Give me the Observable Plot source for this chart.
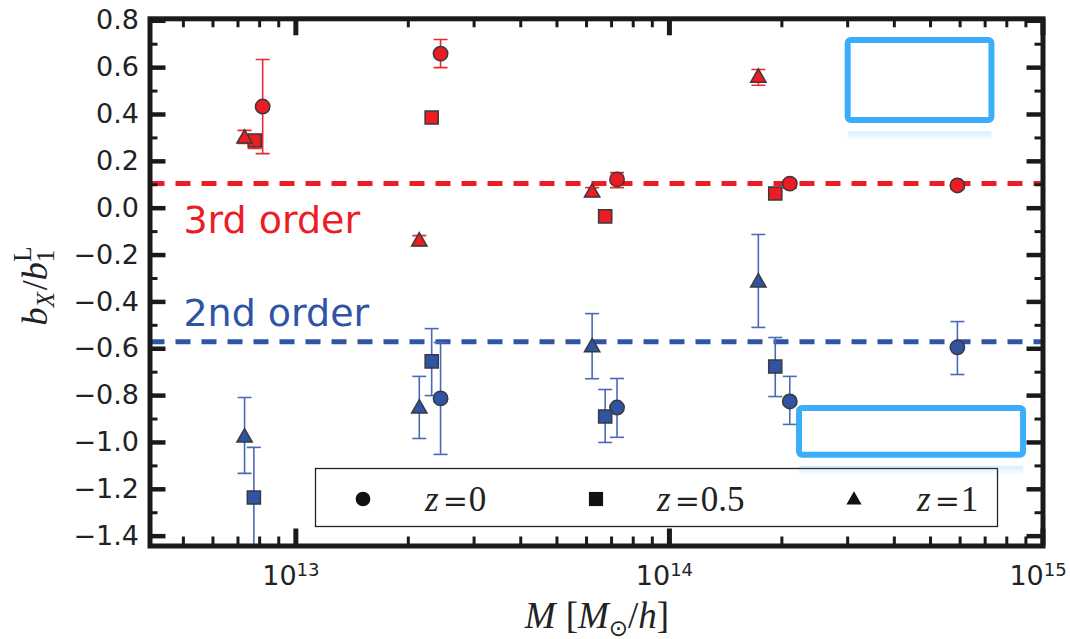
<!DOCTYPE html>
<html><head><meta charset="utf-8">
<script src="https://cdn.jsdelivr.net/npm/d3@7"></script>
<script src="https://cdn.jsdelivr.net/npm/@observablehq/plot@0.6"></script>
<style>html,body{margin:0;padding:0;background:#fff;}</style>
</head><body>
<div id="chart"></div>
<script>
// ---------- data ----------
// 3rd order (red)
const mass3_z0  = [8.15e12, 2.44e13, 7.24e13, 2.10e14, 5.90e14];
const b3_z0     = [0.434, 0.660, 0.123, 0.105, 0.097];
const lo3_z0    = [0.233, 0.600, 0.088, 0.085, 0.088];
const hi3_z0    = [0.635, 0.720, 0.152, 0.120, 0.106];
const mass3_z05 = [7.76e12, 2.31e13, 6.73e13, 1.92e14];
const b3_z05    = [0.289, 0.387, -0.035, 0.063];
const lo3_z05   = [0.255, 0.378, -0.042, 0.056];
const hi3_z05   = [0.310, 0.396, -0.028, 0.070];
const mass3_z1  = [7.29e12, 2.14e13, 6.21e13, 1.73e14];
const b3_z1     = [0.297, -0.142, 0.067, 0.557];
const lo3_z1    = [0.276, -0.160, 0.050, 0.525];
const hi3_z1    = [0.332, -0.117, 0.088, 0.592];
// 2nd order (blue)
const mass2_z0  = [2.44e13, 7.24e13, 2.10e14, 5.90e14];
const b2_z0     = [-0.812, -0.851, -0.825, -0.594];
const lo2_z0    = [-1.051, -0.978, -0.923, -0.710];
const hi2_z0    = [-0.573, -0.727, -0.718, -0.484];
const mass2_z05 = [7.72e12, 2.31e13, 6.73e13, 1.92e14];
const b2_z05    = [-1.235, -0.654, -0.889, -0.676];
const lo2_z05   = [-1.600, -0.800, -1.000, -0.804];
const hi2_z05   = [-1.021, -0.514, -0.774, -0.552];
const mass2_z1  = [7.29e12, 2.14e13, 6.21e13, 1.73e14];
const b2_z1     = [-0.979, -0.855, -0.594, -0.317];
const lo2_z1    = [-1.132, -0.983, -0.728, -0.509];
const hi2_z1    = [-0.808, -0.718, -0.450, -0.112];
// reference levels
const level3 = 0.105;
const level2 = -0.570;
// annotation labels
const annoText = ["3rd order", "2nd order"];
const annoX    = [5.0e12, 5.0e12];
const annoY    = [-0.053, -0.449];
// highlight boxes (data units)
const boxX1 = [3.01e14, 2.23e14];
const boxX2 = [7.30e14, 8.87e14];
const boxY1 = [0.716, -0.855];
const boxY2 = [0.374, -1.055];
// ticks
const yMajor = [-1.4,-1.2,-1.0,-0.8,-0.6,-0.4,-0.2,0.0,0.2,0.4,0.6,0.8];
const yMinor = [-1.3,-1.1,-0.9,-0.7,-0.5,-0.3,-0.1,0.1,0.3,0.5,0.7];
const xMajor = [1e13, 1e14, 1e15];
const xMinor = [5e12,6e12,7e12,8e12,9e12,2e13,3e13,4e13,5e13,6e13,7e13,8e13,9e13,2e14,3e14,4e14,5e14,6e14,7e14,8e14,9e14];
const legendLabels = ["0", "0.5", "1"];

// ---------- build table ----------
const rows = [];
function add(order, z, M, b, lo, hi) { M.forEach((m, i) => rows.push({order, z, M: m, b: b[i], lo: lo[i], hi: hi[i]})); }
add(3, "0", mass3_z0, b3_z0, lo3_z0, hi3_z0);
add(3, "0.5", mass3_z05, b3_z05, lo3_z05, hi3_z05);
add(3, "1", mass3_z1, b3_z1, lo3_z1, hi3_z1);
add(2, "0", mass2_z0, b2_z0, lo2_z0, hi2_z0);
add(2, "0.5", mass2_z05, b2_z05, lo2_z05, hi2_z05);
add(2, "1", mass2_z1, b2_z1, lo2_z1, hi2_z1);
const annos = annoText.map((t, i) => ({t, x: annoX[i], y: annoY[i], c: i === 0 ? "red" : "blue"}));
const boxes = boxX1.map((_, i) => ({x1: boxX1[i], x2: boxX2[i], y1: boxY1[i], y2: boxY2[i]}));

// ---------- style ----------
const W = 1070, H = 639, ML = 149.5, MR = 27.5, MT = 18.3, MB = 93.5;
const PW = W - ML - MR, PH = H - MT - MB;
const RED = "#ec1c24", BLUE = "#2f54a3";
const RED_ERR = "#f0282d", BLUE_ERR = "#4a6ab8";
const symbolOf = {"0": "circle", "0.5": "square", "1": "triangle"};
const rOf = {"0": 7.2, "0.5": 7.4, "1": 5.7};
const capSym = {draw(ctx, size) { const w = Math.sqrt(size / Math.PI); ctx.moveTo(-w, 0); ctx.lineTo(w, 0); }};
const fmtY = d => (d < -1e-9 ? "\u2212" : "") + Math.abs(d).toFixed(1);

const marks = [
  Plot.ruleY([level3], {y: d => d, stroke: RED, strokeWidth: 5, strokeDasharray: "15,11"}),
  Plot.ruleY([level2], {y: d => d, stroke: BLUE, strokeWidth: 5, strokeDasharray: "15,11"}),
];
for (const [order, ec] of [[3, RED_ERR], [2, BLUE_ERR]]) {
  const d = rows.filter(r => r.order === order);
  marks.push(Plot.ruleX(d, {x: "M", y1: "lo", y2: "hi", stroke: ec, strokeWidth: 1.6, clip: true}));
  marks.push(Plot.dot(d, {x: "M", y: "lo", symbol: capSym, r: 7, fill: "none", stroke: ec, strokeWidth: 1.6, clip: true}));
  marks.push(Plot.dot(d, {x: "M", y: "hi", symbol: capSym, r: 7, fill: "none", stroke: ec, strokeWidth: 1.6, clip: true}));
}
for (const [order, fc] of [[3, RED], [2, BLUE]]) {
  for (const z of ["0", "0.5", "1"]) {
    const d = rows.filter(r => r.order === order && r.z === z);
    marks.push(Plot.dot(d, {x: "M", y: "b", symbol: symbolOf[z], r: rOf[z], fill: fc, stroke: "#3a3a3a", strokeWidth: 1.5}));
  }
}
marks.push(
  Plot.text(annos.filter(a => a.c === "red"), {x: "x", y: "y", text: "t", fill: RED, fontSize: 38, textAnchor: "start", fontFamily: "DejaVu Sans"}),
  Plot.text(annos.filter(a => a.c === "blue"), {x: "x", y: "y", text: "t", fill: BLUE, fontSize: 38, textAnchor: "start", fontFamily: "DejaVu Sans"}),
  // inward ticks on all four sides
  Plot.tickY(yMajor, {y: d => d, insetRight: PW - 16, stroke: "#1a1a1a", strokeWidth: 4.5}),
  Plot.tickY(yMajor, {y: d => d, insetLeft: PW - 16, stroke: "#1a1a1a", strokeWidth: 4.5}),
  Plot.tickY(yMinor, {y: d => d, insetRight: PW - 8, stroke: "#1a1a1a", strokeWidth: 3}),
  Plot.tickY(yMinor, {y: d => d, insetLeft: PW - 8, stroke: "#1a1a1a", strokeWidth: 3}),
  Plot.tickX(xMajor, {x: d => d, insetTop: PH - 17, stroke: "#1a1a1a", strokeWidth: 5}),
  Plot.tickX(xMajor, {x: d => d, insetBottom: PH - 17, stroke: "#1a1a1a", strokeWidth: 5}),
  Plot.tickX(xMinor, {x: d => d, insetTop: PH - 9, stroke: "#1a1a1a", strokeWidth: 3}),
  Plot.tickX(xMinor, {x: d => d, insetBottom: PH - 9, stroke: "#1a1a1a", strokeWidth: 3}),
  Plot.frame({stroke: "#1a1a1a", strokeWidth: 5}),
  Plot.axisY(yMajor, {tickSize: 0, tickPadding: 11, fontSize: 27, tickFormat: fmtY, fill: "#222", label: null}),
  Plot.axisX(xMajor, {anchor: "bottom", tickSize: 0, tickPadding: 20, fontSize: 27, fill: "#222", label: null, dx: -5,
    tickFormat: d => String(Math.round(Math.log10(d)))}),
  // highlight boxes and their faint reflection
  Plot.rect(boxes, {x1: "x1", x2: "x2", y1: "y2", y2: "y2", dy: 16, insetTop: -5, insetBottom: -5, fill: "url(#reflGrad)"}),
  Plot.rect(boxes, {x1: "x1", x2: "x2", y1: "y1", y2: "y2", fill: "none", stroke: "#3aaefa", strokeWidth: 6, rx: 3})
);

const plot = Plot.plot({
  width: W, height: H,
  marginLeft: ML, marginRight: MR, marginTop: MT, marginBottom: MB,
  x: {type: "log", domain: [4.07e12, 1e15], label: null},
  y: {domain: [-1.442, 0.8085], label: null},
  style: {fontFamily: "DejaVu Sans", background: "white", overflow: "visible"},
  marks
});
document.getElementById("chart").appendChild(plot);

const svg = d3.select(plot);
// gradient for reflection
const defs = svg.insert("defs", ":first-child");
const g = defs.append("linearGradient").attr("id", "reflGrad").attr("x1", 0).attr("y1", 0).attr("x2", 0).attr("y2", 1);
g.append("stop").attr("offset", "0%").attr("stop-color", "#3aaefa").attr("stop-opacity", 0.2);
g.append("stop").attr("offset", "100%").attr("stop-color", "#3aaefa").attr("stop-opacity", 0);

// x tick labels as 10^n
svg.selectAll('g[aria-label="x-axis tick label"] text').each(function () {
  const e = this.textContent;
  const t = d3.select(this);
  t.text("10");
  t.append("tspan").attr("dy", "-0.5em").attr("font-size", "18px").text(e);
});

const serif = "'Liberation Serif', 'DejaVu Serif', serif";
// y label: b_X / b_1^L
const yl = svg.append("text")
  .attr("transform", "translate(47,286) rotate(-90)")
  .attr("text-anchor", "middle").attr("font-family", serif).attr("font-size", 36).attr("fill", "#222");
yl.append("tspan").attr("font-style", "italic").text("b");
yl.append("tspan").attr("font-style", "italic").attr("font-size", 25).attr("dy", 7).text("X");
yl.append("tspan").attr("dy", -7).attr("dx", 2).text("/");
yl.append("tspan").attr("font-style", "italic").text("b");
yl.append("tspan").attr("font-size", 25).attr("dy", 7).text("1");
yl.append("tspan").attr("font-size", 25).attr("dy", -23).attr("dx", -12).text("L");

// x label: M [M_sun / h]
const xl = svg.append("text")
  .attr("x", 597).attr("y", 628)
  .attr("text-anchor", "middle").attr("font-family", serif).attr("font-size", 37).attr("fill", "#222");
xl.append("tspan").attr("font-style", "italic").text("M");
xl.append("tspan").attr("dx", 10).text("[");
xl.append("tspan").attr("font-style", "italic").text("M");
xl.append("tspan").attr("font-size", 23).attr("dy", 8).attr("font-family", "DejaVu Sans").text("\u2299");
xl.append("tspan").attr("dy", -8).text("/");
xl.append("tspan").attr("font-style", "italic").text("h");
xl.append("tspan").text("]");

// legend (inside the axes, lower right)
const lg = svg.append("g");
lg.append("rect").attr("x", 315.5).attr("y", 468.5).attr("width", 682).attr("height", 58)
  .attr("fill", "white").attr("stroke", "#222").attr("stroke-width", 1.3);
const legX = [363, 596, 854];
const txtX = [425, 657, 917];
legendLabels.forEach((lab, i) => {
  const z = ["0", "0.5", "1"][i];
  const sym = {circle: d3.symbolCircle, square: d3.symbolSquare, triangle: d3.symbolTriangle}[symbolOf[z]];
  const size = z === "1" ? 100 : (z === "0.5" ? 200 : 170);
  lg.append("path").attr("d", d3.symbol(sym, size)()).attr("transform", `translate(${legX[i]},${z === "1" ? 500 : 499})`).attr("fill", "#111");
  const t = lg.append("text").attr("x", txtX[i]).attr("y", 511).attr("text-anchor", "start")
    .attr("font-family", serif).attr("font-size", 35).attr("fill", "#222");
  t.append("tspan").attr("font-style", "italic").text("z");
  t.append("tspan").attr("dx", 4).attr("font-family", "'DejaVu Serif', serif").attr("font-size", 30).text("=");
  t.append("tspan").attr("dx", 1).text(lab);
});
// keep boxes on top of legend
svg.selectAll('g[aria-label="rect"]').raise();
</script></body></html>
